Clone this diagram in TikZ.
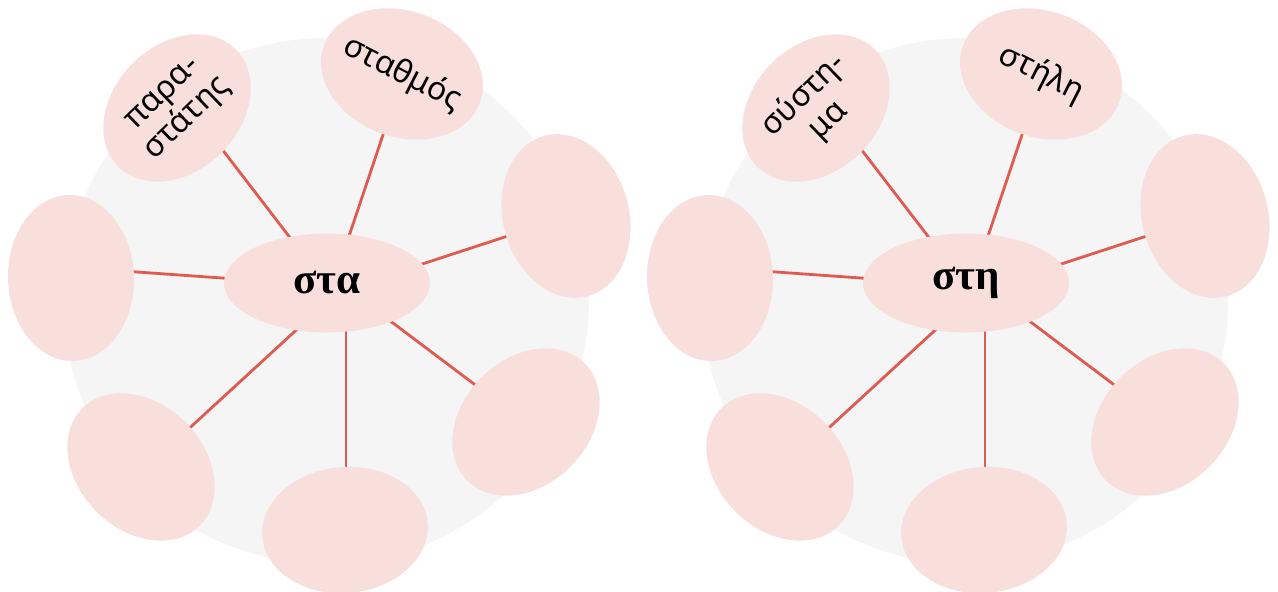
\documentclass[tikz,border=0pt]{standalone}
\usepackage{fontspec}
\setmainfont{Liberation Serif}
\newfontfamily\lblfont{Noto Sans}
\usetikzlibrary{shapes.geometric,calc}
\definecolor{bubblefill}{RGB}{248,223,220}
\definecolor{bggray}{RGB}{245,245,245}
\definecolor{linkred}{RGB}{223,90,80}
\pgfdeclarelayer{disclayer}
\pgfdeclarelayer{links}
\pgfsetlayers{disclayer,links,main}
\tikzset{
 bubble/.style={ellipse, fill=bubblefill, minimum width=83pt, minimum height=63pt, inner sep=0pt},
 hub/.style={ellipse, fill=bubblefill, minimum width=103pt, minimum height=49.5pt, inner sep=0pt, font=\bfseries\fontsize{21.5}{24}\selectfont},
 lbl/.style={font=\lblfont\fontsize{16}{17.5}\selectfont, align=center, inner sep=0pt},
 link/.style={draw=linkred, line width=1.4pt},
 discfill/.style={fill=bggray},
}
\newcommand\cluster[5]{%
\begin{scope}[shift={(#2,0)}]
 \begin{pgfonlayer}{disclayer}
  \fill[discfill] (326,301) circle[radius=131.5pt];
 \end{pgfonlayer}
 \node[hub] (#1c) at (327,283) {#3};
 \node[bubble, rotate=45] (#1a) at (177,108) {};
 \node[lbl, rotate=44] (#1al) at (#1a) {#4};
 \node[bubble, rotate=-20] (#1b) at (402,74) {};
 \node[lbl, rotate=-27] (#1bl) at (#1b) {#5};
 \node[bubble, rotate=105] (#1d) at (566,216) {};
 \node[bubble, rotate=45] (#1e) at (526,422) {};
 \node[bubble, rotate=5] (#1f) at (345,530) {};
 \node[bubble, rotate=-45] (#1g) at (141,467) {};
 \node[bubble, rotate=92] (#1h) at (71,278) {};
 \begin{pgfonlayer}{links}
  \draw[link] ($(#1c)+(-29,-35)$) -- ($(#1a)+(38,32)$);
  \draw[link] ($(#1c)+(19,-38)$) -- ($(#1b)+(-15,49)$);
  \draw[link] ($(#1c)+(83,-15)$) -- ($(#1d)+(-46,16)$);
  \draw[link] ($(#1c)+(54,31)$) -- ($(#1e)+(-40,-29)$);
  \draw[link] ($(#1c)+(19,37)$) -- ($(#1f)+(1,-50)$);
  \draw[link] ($(#1c)+(-22,39)$) -- ($(#1g)+(41,-32)$);
  \draw[link] ($(#1c)+(-91,-4)$) -- ($(#1h)+(52,-7)$);
 \end{pgfonlayer}
\end{scope}}
\begin{document}
\begin{tikzpicture}[x=0.5pt,y=-0.5pt]
 \useasboundingbox (0,0) rectangle (1278,591);
 \clip (0,0) rectangle (1278,591);
 \cluster{L}{0}{στα}{παρα-\\στάτης}{σταθμός}
 \cluster{R}{639}{στη}{σύστη-\\μα}{στήλη}
\end{tikzpicture}
\end{document}
